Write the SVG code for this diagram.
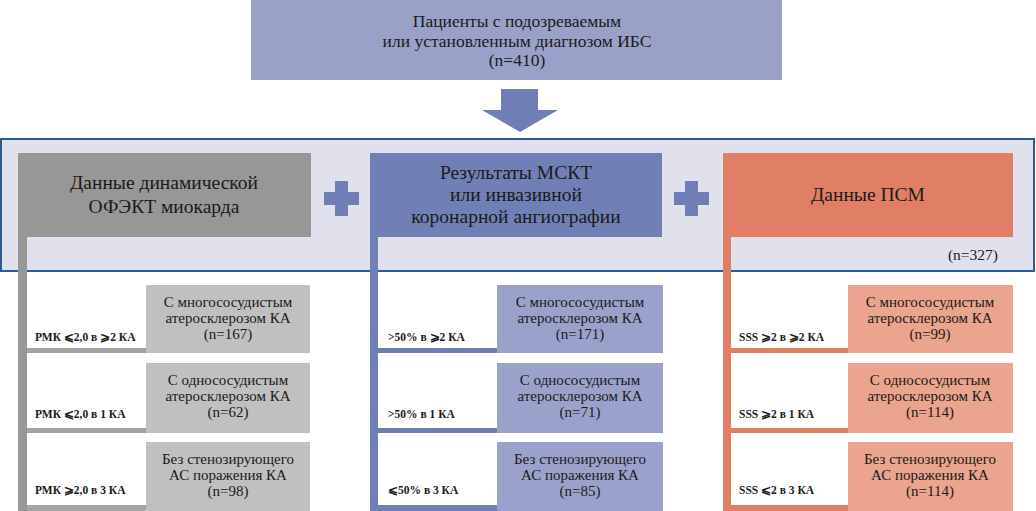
<svg xmlns="http://www.w3.org/2000/svg" width="1036" height="511" viewBox="0 0 1036 511">
<style>
text{font-family:serif}
.t{fill:#1a1a1a;text-anchor:middle}
.h{font-size:19.5px}
.top{font-size:17.5px}
.b{font-size:15px}
.l{font-size:11.5px;font-weight:bold;fill:#1a1a1a}
.gray{fill:#979797}.grayb{fill:#c0c0c0}
.blue{fill:#7080b6}.blueb{fill:#9aa2cc}
.org{fill:#e07f65}.orgb{fill:#eba48d}
.acc{fill:#6f7eb4}
</style>
<rect width="1036" height="511" fill="#ffffff"/>
<g id="top">
<rect x="251" y="0" width="531" height="80" fill="#99a1c9"/>
<text class="t top" x="517" y="27">Пациенты с подозреваемым</text>
<text class="t top" x="517" y="47">или установленным диагнозом ИБС</text>
<text class="t top" x="517" y="66">(n=410)</text>
</g>
<g id="connectors">
<polygon class="acc" points="501,89 538,89 538,110 558,110 520,132 482,110 501,110"/>
</g>
<g id="panel">
<rect x="1" y="139" width="1033" height="132" fill="#e1e1ee" stroke="#2d5a8e" stroke-width="2"/>
<text x="998" y="260" font-size="15.5" text-anchor="end" fill="#1a1a1a">(n=327)</text>
</g>
<g id="plus1"><rect class="acc" x="324" y="192" width="35" height="13"/><rect class="acc" x="335" y="181" width="13" height="35"/></g>
<g id="plus2"><rect class="acc" x="674" y="192" width="35" height="13"/><rect class="acc" x="685" y="181" width="13" height="35"/></g>
<g id="col1">
<rect class="gray" x="18" y="153" width="293" height="84"/>
<rect class="gray" x="18" y="237" width="9" height="274"/>
<text class="t h" x="164" y="189">Данные динамической</text>
<text class="t h" x="164" y="213">ОФЭКТ миокарда</text>
</g>
<g id="col1-r1"><rect fill="#a4a4a4" x="27" y="348" width="119" height="5"/><rect class="grayb" x="146" y="285" width="164" height="68"/>
<text class="l" x="35" y="341">РМК ⩽2,0 в ⩾2 КА</text>
<text class="t b" x="228" y="307">С многососудистым</text><text class="t b" x="228" y="323">атеросклерозом КА</text><text class="t b" x="228" y="339">(n=167)</text></g>
<g id="col1-r2"><rect fill="#a4a4a4" x="27" y="428" width="119" height="5"/><rect class="grayb" x="146" y="363" width="164" height="70"/>
<text class="l" x="35" y="418">РМК ⩽2,0 в 1 КА</text>
<text class="t b" x="228" y="385">С однососудистым</text><text class="t b" x="228" y="401">атеросклерозом КА</text><text class="t b" x="228" y="417">(n=62)</text></g>
<g id="col1-r3"><rect fill="#a4a4a4" x="27" y="505" width="119" height="6"/><rect class="grayb" x="146" y="442" width="164" height="69"/>
<text class="l" x="35" y="494">РМК ⩾2,0 в 3 КА</text>
<text class="t b" x="228" y="464">Без стенозирующего</text><text class="t b" x="228" y="480">АС поражения КА</text><text class="t b" x="228" y="496">(n=98)</text></g>
<g id="col2">
<rect class="blue" x="370" y="153" width="292" height="84"/>
<rect class="blue" x="370" y="237" width="8" height="274"/>
<text class="t h" x="516" y="179">Результаты МСКТ</text>
<text class="t h" x="516" y="201">или инвазивной</text>
<text class="t h" x="516" y="223">коронарной ангиографии</text>
</g>
<g id="col2-r1"><rect class="blue" x="378" y="348" width="119" height="5"/><rect class="blueb" x="497" y="285" width="166" height="68"/>
<text class="l" x="388" y="341">&gt;50% в ⩾2 КА</text>
<text class="t b" x="580" y="307">С многососудистым</text><text class="t b" x="580" y="323">атеросклерозом КА</text><text class="t b" x="580" y="339">(n=171)</text></g>
<g id="col2-r2"><rect class="blue" x="378" y="428" width="119" height="5"/><rect class="blueb" x="497" y="363" width="166" height="70"/>
<text class="l" x="388" y="418">&gt;50% в 1 КА</text>
<text class="t b" x="580" y="385">С однососудистым</text><text class="t b" x="580" y="401">атеросклерозом КА</text><text class="t b" x="580" y="417">(n=71)</text></g>
<g id="col2-r3"><rect class="blue" x="378" y="505" width="119" height="6"/><rect class="blueb" x="497" y="442" width="166" height="69"/>
<text class="l" x="388" y="494">⩽50% в 3 КА</text>
<text class="t b" x="580" y="464">Без стенозирующего</text><text class="t b" x="580" y="480">АС поражения КА</text><text class="t b" x="580" y="496">(n=85)</text></g>
<g id="col3">
<rect class="org" x="723" y="153" width="290" height="84"/>
<rect class="org" x="723" y="237" width="8" height="274"/>
<text class="t h" x="868" y="201">Данные ПСМ</text>
</g>
<g id="col3-r1"><rect class="org" x="731" y="348" width="117" height="5"/><rect class="orgb" x="848" y="285" width="165" height="68"/>
<text class="l" x="739" y="341">SSS ⩾2 в ⩾2 КА</text>
<text class="t b" x="930" y="307">С многососудистым</text><text class="t b" x="930" y="323">атеросклерозом КА</text><text class="t b" x="930" y="339">(n=99)</text></g>
<g id="col3-r2"><rect class="org" x="731" y="428" width="117" height="5"/><rect class="orgb" x="848" y="363" width="165" height="70"/>
<text class="l" x="739" y="418">SSS ⩾2 в 1 КА</text>
<text class="t b" x="930" y="385">С однососудистым</text><text class="t b" x="930" y="401">атеросклерозом КА</text><text class="t b" x="930" y="417">(n=114)</text></g>
<g id="col3-r3"><rect class="org" x="731" y="505" width="117" height="6"/><rect class="orgb" x="848" y="442" width="165" height="69"/>
<text class="l" x="739" y="494">SSS ⩽2 в 3 КА</text>
<text class="t b" x="930" y="464">Без стенозирующего</text><text class="t b" x="930" y="480">АС поражения КА</text><text class="t b" x="930" y="496">(n=114)</text></g>
</svg>
